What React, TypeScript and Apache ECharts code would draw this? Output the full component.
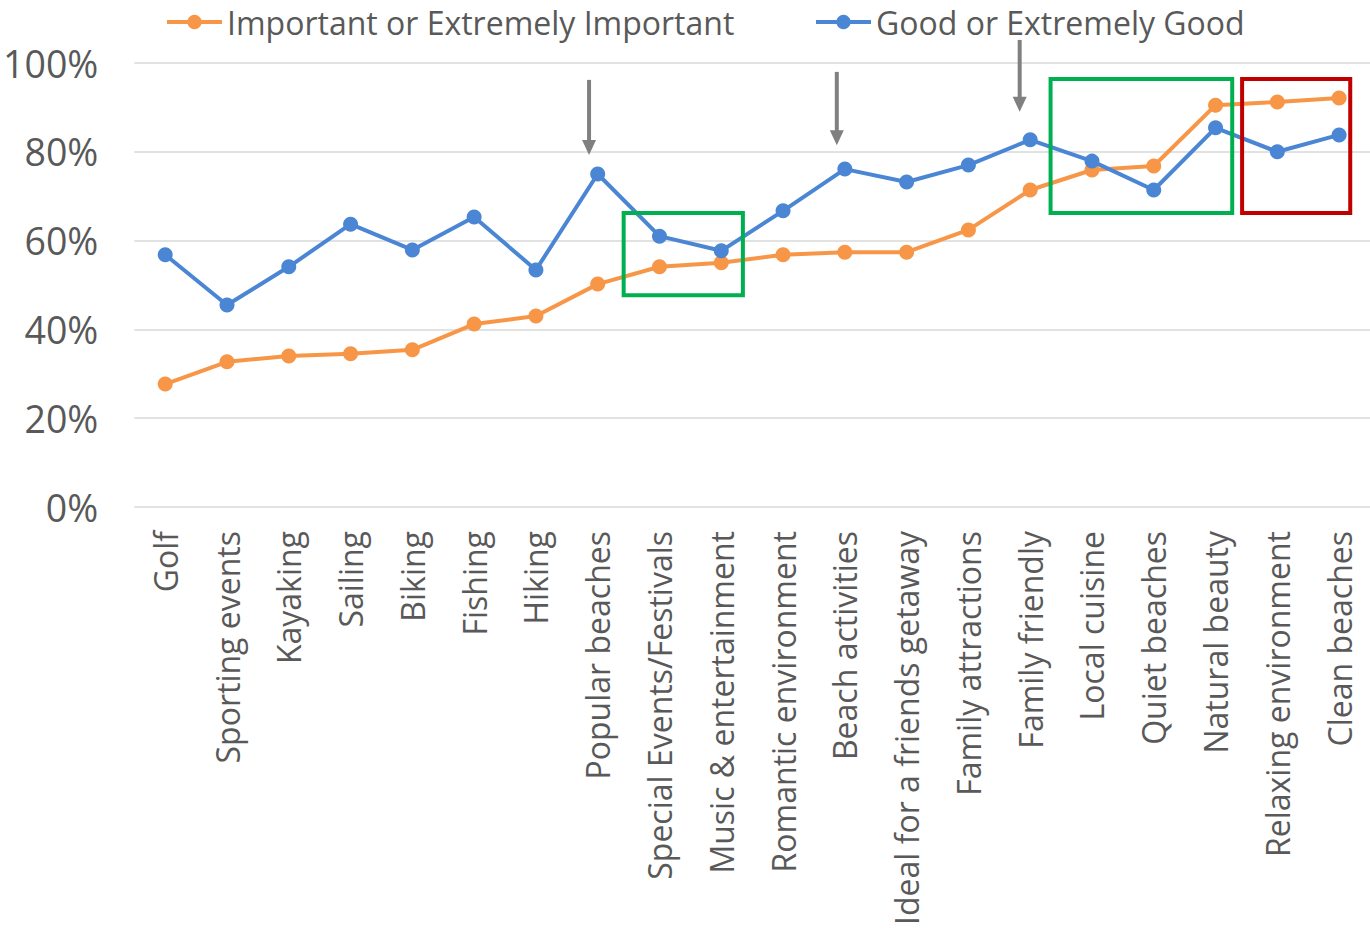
import React, { useEffect, useRef } from "react";
import * as echarts from "echarts";

const categories = [
  "Golf", "Sporting events", "Kayaking", "Sailing", "Biking", "Fishing", "Hiking",
  "Popular beaches", "Special Events/Festivals", "Music & entertainment",
  "Romantic environment", "Beach activities", "Ideal for a friends getaway",
  "Family attractions", "Family friendly", "Local cuisine", "Quiet beaches",
  "Natural beauty", "Relaxing environment", "Clean beaches",
];

const importantValues = [
  27.7, 32.7, 34.0, 34.5, 35.4, 41.2, 43.0, 50.2, 54.1, 55.0,
  56.8, 57.4, 57.4, 62.4, 71.4, 75.9, 76.8, 90.5, 91.2, 92.1,
];

const goodValues = [
  56.8, 45.5, 54.1, 63.7, 57.9, 65.3, 53.4, 75.0, 61.0, 57.7,
  66.7, 76.1, 73.2, 77.0, 82.7, 77.9, 71.4, 85.4, 80.0, 83.8,
];

const yTicks = [0, 20, 40, 60, 80, 100];

// annotation boxes: category-index ranges and value ranges
const boxes = [
  { x0: 7.42, x1: 9.35, y0: 47.7, y1: 66.2, color: "#00B050" },
  { x0: 14.33, x1: 17.27, y0: 66.2, y1: 96.4, color: "#00B050" },
  { x0: 17.43, x1: 19.18, y0: 66.2, y1: 96.4, color: "#C00000" },
];

// arrows: category-index position, top value, tip value
const arrows = [
  { x: 6.86, yTop: 96.2, yTip: 79.3 },
  { x: 10.87, yTop: 98.0, yTip: 81.5 },
  { x: 13.83, yTop: 105.2, yTip: 89.0 },
];

const FONT = "'Open Sans', 'Noto Sans', sans-serif";
const TEXT = "#595959";
const ORANGE = "#F79646";
const BLUE = "#4A86D4";

export default function App() {
  const ref = useRef<HTMLDivElement>(null);

  useEffect(() => {
    if (!ref.current) return;
    const chart = echarts.init(ref.current, null, { renderer: "svg" });
    const legendCommon = {
      top: 6,
      padding: 0,
      itemWidth: 55,
      itemHeight: 18,
      itemGap: 0,
      lineStyle: { width: 4 },
      textStyle: { fontSize: 32, color: TEXT, fontFamily: FONT },
    };
    const option: any = {
      animation: false,
      textStyle: { fontFamily: FONT },
      grid: { left: 133, right: 0, top: 63, bottom: 423, containLabel: false },
      legend: [
        { ...legendCommon, data: ["Important or Extremely Important"], left: 165 },
        { ...legendCommon, data: ["Good or Extremely Good"], left: 814 },
      ],
      xAxis: {
        type: "category",
        data: categories,
        boundaryGap: true,
        axisLine: { show: false },
        axisTick: { show: false },
        axisLabel: {
          rotate: 90,
          interval: 0,
          fontSize: 32,
          color: TEXT,
          fontFamily: FONT,
          margin: 24,
        },
      },
      yAxis: {
        type: "value",
        min: yTicks[0],
        max: yTicks[yTicks.length - 1],
        interval: 20,
        axisLine: { show: false },
        axisTick: { show: false },
        splitLine: { lineStyle: { color: "#D9D9D9", width: 1.5 } },
        axisLabel: {
          formatter: (v: number) => `${v}%`,
          fontSize: 37.5,
          color: TEXT,
          fontFamily: FONT,
          margin: 36,
        },
      },
      series: [
        {
          name: "Important or Extremely Important",
          type: "line",
          data: importantValues,
          symbol: "circle",
          symbolSize: 15,
          itemStyle: { color: ORANGE },
          lineStyle: { color: ORANGE, width: 4 },
          z: 2,
        },
        {
          name: "Good or Extremely Good",
          type: "line",
          data: goodValues,
          symbol: "circle",
          symbolSize: 15,
          itemStyle: { color: BLUE },
          lineStyle: { color: BLUE, width: 4 },
          z: 3,
        },
      ],
    };
    chart.setOption(option);

    const p0 = chart.convertToPixel({ gridIndex: 0 }, [0, 0]) as number[];
    const p1 = chart.convertToPixel({ gridIndex: 0 }, [1, 100]) as number[];
    const bw = p1[0] - p0[0];
    const px = (i: number) => p0[0] + i * bw;
    const py = (v: number) => p0[1] + (v / 100) * (p1[1] - p0[1]);

    const graphics: any[] = [];
    boxes.forEach((b) => {
      graphics.push({
        type: "rect",
        shape: { x: px(b.x0), y: py(b.y1), width: px(b.x1) - px(b.x0), height: py(b.y0) - py(b.y1) },
        style: { fill: "none", stroke: b.color, lineWidth: 4 },
        z: 10,
      });
    });
    arrows.forEach((a) => {
      const x = px(a.x);
      const top = py(a.yTop);
      const tip = py(a.yTip);
      graphics.push({
        type: "line",
        shape: { x1: x, y1: top, x2: x, y2: tip - 12 },
        style: { stroke: "#808080", lineWidth: 4 },
        z: 10,
      });
      graphics.push({
        type: "polygon",
        shape: { points: [[x - 7, tip - 15], [x + 7, tip - 15], [x, tip]] },
        style: { fill: "#808080" },
        z: 10,
      });
    });
    chart.setOption({ graphic: graphics });

    return () => chart.dispose();
  }, []);

  return (
    <div
      ref={ref}
      style={{ position: "fixed", left: 0, top: 0, width: 1370, height: 930, background: "#fff" }}
    />
  );
}
